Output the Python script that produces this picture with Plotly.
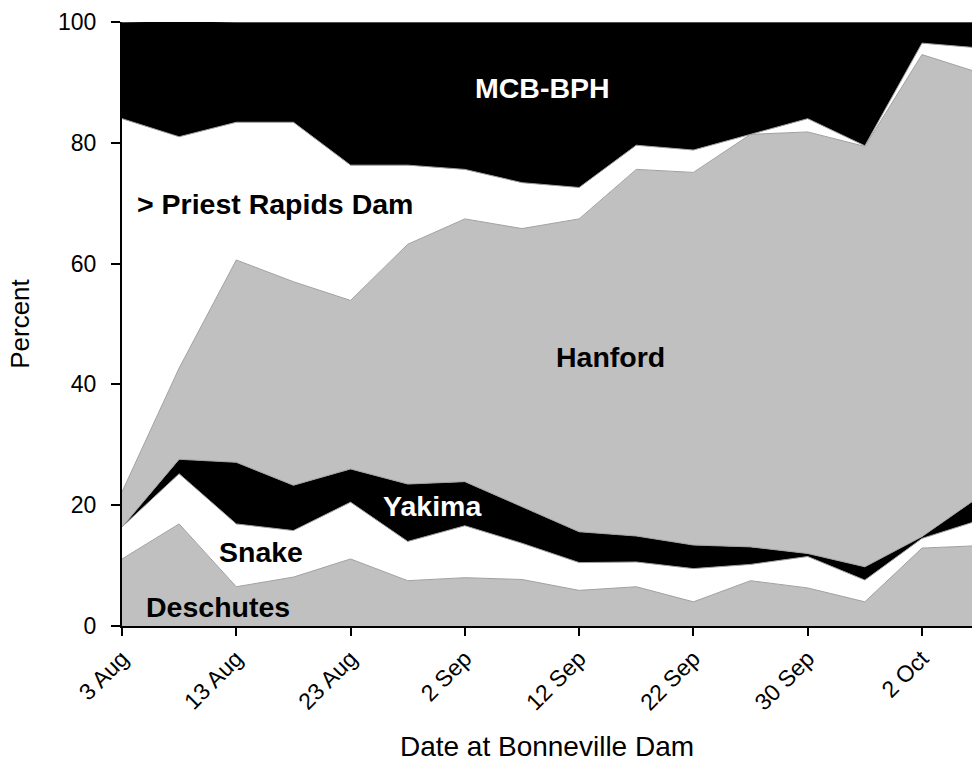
import plotly.graph_objects as go

# Sample index along the x axis (equally spaced samples at Bonneville Dam)
sample = list(range(16))
tick_pos = [0, 2, 4, 6, 8, 10, 12, 14]
tick_labels = ["3 Aug", "13 Aug", "23 Aug", "2 Sep", "12 Sep", "22 Sep", "30 Sep", "2 Oct"]

# Percent composition per stock (stacked bottom to top)
deschutes = [11.1, 16.9, 6.5, 8.1, 11.1, 7.5, 8.0, 7.7, 5.9, 6.5, 4.0, 7.5, 6.3, 4.0, 12.9, 13.3]
snake     = [5.3, 8.3, 10.4, 7.7, 9.4, 6.5, 8.6, 6.0, 4.6, 4.1, 5.5, 2.7, 5.2, 3.6, 1.6, 4.2]
yakima    = [0.0, 2.4, 10.2, 7.5, 5.5, 9.5, 7.3, 6.1, 5.1, 4.3, 3.9, 2.9, 0.5, 2.2, 0.3, 3.9]
hanford   = [5.8, 15.1, 33.5, 33.7, 27.9, 39.7, 43.5, 46.0, 51.8, 60.7, 61.7, 68.3, 69.8, 69.6, 79.8, 70.2]
priest    = [61.8, 38.3, 22.8, 26.4, 22.4, 13.1, 8.2, 7.6, 5.2, 4.0, 3.7, 0.0, 2.2, 0.1, 1.9, 4.1]
mcb_bph   = [16.0, 19.2, 16.6, 16.6, 23.7, 23.7, 24.4, 26.6, 27.4, 20.4, 21.2, 18.6, 16.0, 20.5, 3.5, 4.3]

series = [
    ("Deschutes", deschutes, "#c0c0c0"),
    ("Snake", snake, "#ffffff"),
    ("Yakima", yakima, "#000000"),
    ("Hanford", hanford, "#c0c0c0"),
    ("> Priest Rapids Dam", priest, "#ffffff"),
    ("MCB-BPH", mcb_bph, "#000000"),
]

FONT = "Liberation Sans, Arial, Helvetica, sans-serif"

fig = go.Figure()
for name, vals, col in series:
    fig.add_trace(go.Scatter(
        x=sample, y=vals, name=name, mode="lines",
        stackgroup="one", fillcolor=col,
        line=dict(color="#a0a0a0", width=1),
        showlegend=False,
    ))

# in-chart labels
labels = [
    ("MCB-BPH", 7.36, 89.1, "white", "center"),
    ("> Priest Rapids Dam", 0.236, 69.9, "black", "left"),
    ("Hanford", 8.55, 44.5, "black", "center"),
    ("Yakima", 5.43, 19.8, "white", "center"),
    ("Snake", 2.43, 12.2, "black", "center"),
    ("Deschutes", 1.68, 3.2, "black", "center"),
]
for txt, xx, yy, col, anc in labels:
    fig.add_annotation(x=xx, y=yy, xref="x", yref="y", text="<b>%s</b>" % txt,
                       showarrow=False, xanchor=anc, yanchor="middle",
                       font=dict(family=FONT, size=28.5, color=col))

fig.update_layout(
    width=972, height=768,
    margin=dict(l=122, r=0, t=22, b=142),
    paper_bgcolor="white", plot_bgcolor="white",
    font=dict(family=FONT, color="black"),
)
fig.update_xaxes(
    range=[0, 14.875], tickmode="array", tickvals=tick_pos, ticktext=tick_labels,
    tickangle=-45, ticks="outside", ticklen=8, tickwidth=1.5, tickcolor="black",
    showline=True, linecolor="black", linewidth=2, showgrid=False, zeroline=False,
    tickfont=dict(size=23, family=FONT, color="black"),
    title=dict(text="Date at Bonneville Dam", font=dict(size=28, family=FONT, color="black"), standoff=22),
    automargin=False,
)
fig.update_yaxes(
    range=[0, 100], tickvals=[0, 20, 40, 60, 80, 100],
    ticks="outside", ticklen=9, tickwidth=1.5, tickcolor="black",
    showline=True, linecolor="black", linewidth=2, showgrid=False, zeroline=False,
    tickfont=dict(size=23, family=FONT, color="black"), ticklabelstandoff=10,
    title=dict(text="Percent", font=dict(size=26, family=FONT, color="black"), standoff=21),
    automargin=False,
)

fig.write_html(
    "out.html",
    config={"displayModeBar": False},
    post_script="document.body.style.margin='0';"
                "document.body.style.overflow='hidden';"
                "document.documentElement.style.overflow='hidden';",
)
